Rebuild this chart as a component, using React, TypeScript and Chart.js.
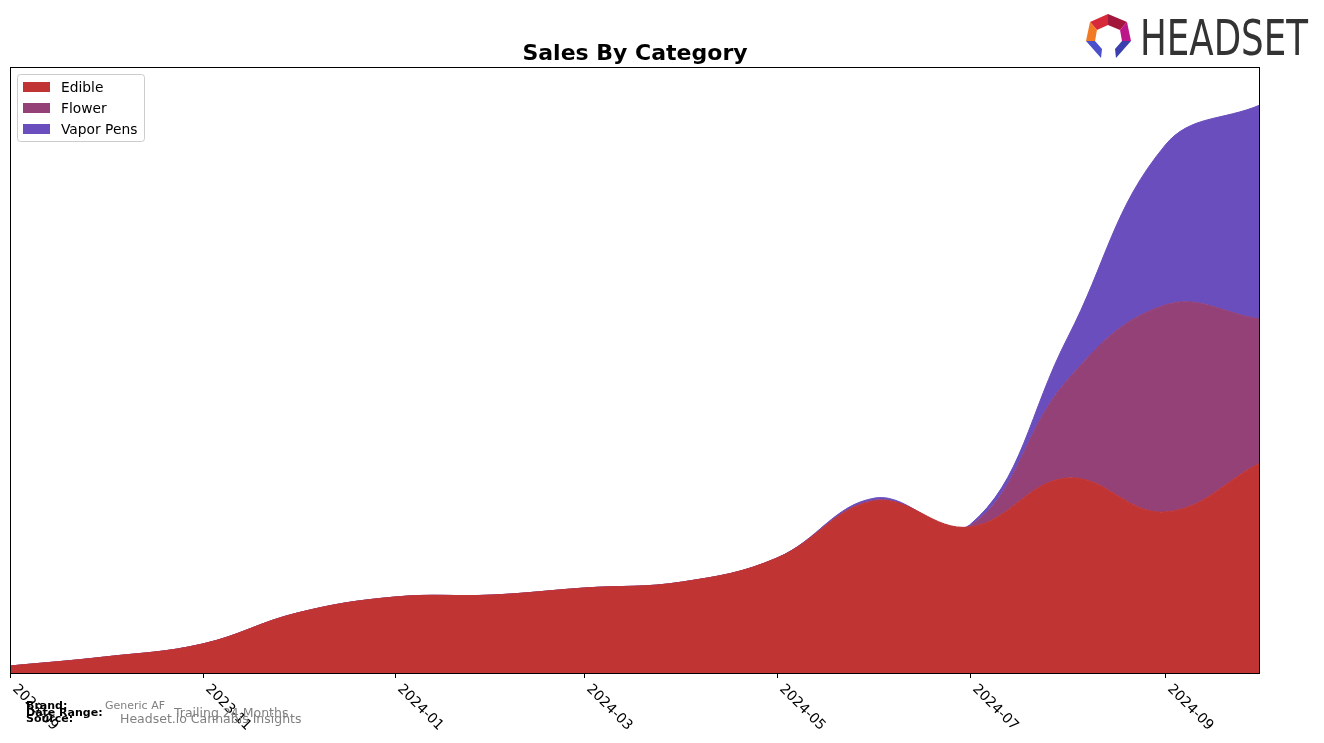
import React, { useEffect, useRef } from "react";
import { Chart, registerables } from "chart.js";

Chart.register(...registerables);

// ---- data ----
const months = [
  "2023-09", "2023-10", "2023-11", "2023-12", "2024-01", "2024-02", "2024-03",
  "2024-04", "2024-05", "2024-06", "2024-07", "2024-08", "2024-09", "2024-10",
];
const edible = [7, 16, 29, 60, 76, 78, 85, 91, 115, 172, 146, 195, 161, 210];
const flower = [0, 0, 0, 0, 0, 0, 0, 0, 0, 1, 1, 98, 207, 144];
const vaporPens = [0, 0, 0, 0, 0, 0, 0, 0, 0, 2, 1, 42, 160, 214];
const tickLabels = ["2023-09", "2023-11", "2024-01", "2024-03", "2024-05", "2024-07", "2024-09"];
const seriesNames = ["Edible", "Flower", "Vapor Pens"];
const seriesColors = ["#c13434", "#944178", "#6a4ebd"];
const yMax = 606;

const titleText = "Sales By Category";
const footerLabels = ["Brand:", "Date Range:", "Source:"];
const footerValues = ["Generic AF", "Trailing 24 Months", "Headset.io Cannabis Insights"];

const FONT = '"DejaVu Sans", sans-serif';

function dayOf(s: string): number {
  const [y, m] = s.split("-").map(Number);
  return (Date.UTC(y, m - 1, 1) - Date.UTC(2023, 8, 1)) / 86400000;
}

const decorPlugin = {
  id: "decor",
  beforeDraw(chart: any) {
    const ctx = chart.ctx;
    ctx.save();
    ctx.fillStyle = "#ffffff";
    ctx.fillRect(0, 0, chart.width, chart.height);
    ctx.restore();
  },
  afterDraw(chart: any) {
    const ctx: CanvasRenderingContext2D = chart.ctx;
    const a = chart.chartArea;
    const xs = chart.scales.x;
    ctx.save();

    // frame
    ctx.strokeStyle = "#000000";
    ctx.lineWidth = 1;
    ctx.strokeRect(a.left + 0.5, a.top + 0.5, a.right - a.left - 1, a.bottom - a.top);

    // ticks + rotated labels
    ctx.font = `14px ${FONT}`;
    ctx.fillStyle = "#000000";
    tickLabels.forEach((lab) => {
      const px = Math.round(xs.getPixelForValue(dayOf(lab))) + 0.5;
      ctx.beginPath();
      ctx.moveTo(px, a.bottom);
      ctx.lineTo(px, a.bottom + 5);
      ctx.stroke();
      const h = 14;
      const s = Math.SQRT1_2;
      ctx.save();
      ctx.translate(px + h * s - 1, a.bottom + 9);
      ctx.rotate(Math.PI / 4);
      ctx.textBaseline = "top";
      ctx.textAlign = "left";
      ctx.fillText(lab, 0, 0);
      ctx.restore();
    });

    // title
    ctx.font = `bold 22px ${FONT}`;
    ctx.textAlign = "center";
    ctx.textBaseline = "alphabetic";
    ctx.fillStyle = "#000000";
    ctx.fillText(titleText, (a.left + a.right) / 2, 60);

    // legend
    const lx = 17.5, ly = 74.5, lw = 127, lh = 67;
    ctx.beginPath();
    const r = 3;
    ctx.moveTo(lx + r, ly);
    ctx.lineTo(lx + lw - r, ly);
    ctx.quadraticCurveTo(lx + lw, ly, lx + lw, ly + r);
    ctx.lineTo(lx + lw, ly + lh - r);
    ctx.quadraticCurveTo(lx + lw, ly + lh, lx + lw - r, ly + lh);
    ctx.lineTo(lx + r, ly + lh);
    ctx.quadraticCurveTo(lx, ly + lh, lx, ly + lh - r);
    ctx.lineTo(lx, ly + r);
    ctx.quadraticCurveTo(lx, ly, lx + r, ly);
    ctx.closePath();
    ctx.fillStyle = "rgba(255,255,255,0.8)";
    ctx.fill();
    ctx.strokeStyle = "#cccccc";
    ctx.stroke();
    ctx.font = `13.8px ${FONT}`;
    ctx.textAlign = "left";
    ctx.textBaseline = "middle";
    seriesNames.forEach((n, i) => {
      const cy = 87 + i * 21;
      ctx.fillStyle = seriesColors[i];
      ctx.fillRect(23, cy - 5, 27, 10);
      ctx.fillStyle = "#000000";
      ctx.fillText(n, 61, cy + 1);
    });

    // footer
    ctx.textBaseline = "alphabetic";
    ctx.font = `bold 11px ${FONT}`;
    ctx.fillStyle = "#000000";
    const fy = [709, 716, 722];
    footerLabels.forEach((t, i) => ctx.fillText(t, 26, fy[i]));
    ctx.fillStyle = "#808080";
    ctx.font = `11px ${FONT}`;
    ctx.fillText(footerValues[0], 105, 709);
    ctx.font = `12.5px ${FONT}`;
    ctx.fillText(footerValues[1], 174, 717);
    ctx.fillText(footerValues[2], 120, 723);

    // logo icon
    const poly = (pts: number[][], c: string) => {
      ctx.beginPath();
      ctx.moveTo(pts[0][0], pts[0][1]);
      for (let k = 1; k < pts.length; k++) ctx.lineTo(pts[k][0], pts[k][1]);
      ctx.closePath();
      ctx.fillStyle = c;
      ctx.fill();
    };
    poly([[1108, 14], [1090, 22], [1097, 30], [1108, 25]], "#d62a3a");
    poly([[1108, 14], [1127, 22], [1120, 30], [1108, 25]], "#a3173c");
    poly([[1090, 22], [1086, 41], [1095, 41], [1097, 30]], "#f27a24");
    poly([[1127, 22], [1131, 41], [1122, 41], [1120, 30]], "#bd168a");
    poly([[1086, 41], [1095, 41], [1102, 49], [1101, 58]], "#4b4fca");
    poly([[1131, 41], [1122, 41], [1115, 49], [1116, 58]], "#3b3fae");

    // logo text
    ctx.font = `50px ${FONT}`;
    ctx.fillStyle = "#333333";
    ctx.textAlign = "left";
    ctx.textBaseline = "alphabetic";
    const w = ctx.measureText("HEADSET").width;
    ctx.save();
    ctx.translate(1140, 55);
    ctx.scale(168 / w, 1);
    ctx.fillText("HEADSET", 0, 0);
    ctx.restore();

    ctx.restore();
  },
};

export default function App() {
  const ref = useRef<HTMLCanvasElement | null>(null);
  useEffect(() => {
    document.body.style.margin = "0";
    const canvas = ref.current!;
    const series = [edible, flower, vaporPens];
    const chart = new Chart(canvas, {
      type: "line",
      data: {
        datasets: series.map((vals, i) => ({
          label: seriesNames[i],
          data: months.map((m, j) => ({ x: dayOf(m), y: vals[j] })),
          backgroundColor: seriesColors[i],
          borderColor: seriesColors[i],
          borderWidth: 1,
          pointRadius: 0,
          tension: 0.4,
          fill: i === 0 ? "origin" : "-1",
        })),
      },
      options: {
        responsive: false,
        animation: false,
        devicePixelRatio: 1,
        layout: { padding: { left: 10, top: 67, right: 64, bottom: 70 } },
        plugins: { legend: { display: false }, title: { display: false }, tooltip: { enabled: false } },
        scales: {
          x: { type: "linear", min: 0, max: dayOf(months[months.length - 1]), display: false },
          y: { stacked: true, min: 0, max: yMax, display: false },
        },
      },
      plugins: [decorPlugin],
    });
    return () => chart.destroy();
  }, []);
  return (
    <div style={{ position: "absolute", left: 0, top: 0, width: 1324, height: 743 }}>
      <canvas ref={ref} width={1324} height={743} style={{ width: 1324, height: 743 }} />
    </div>
  );
}
